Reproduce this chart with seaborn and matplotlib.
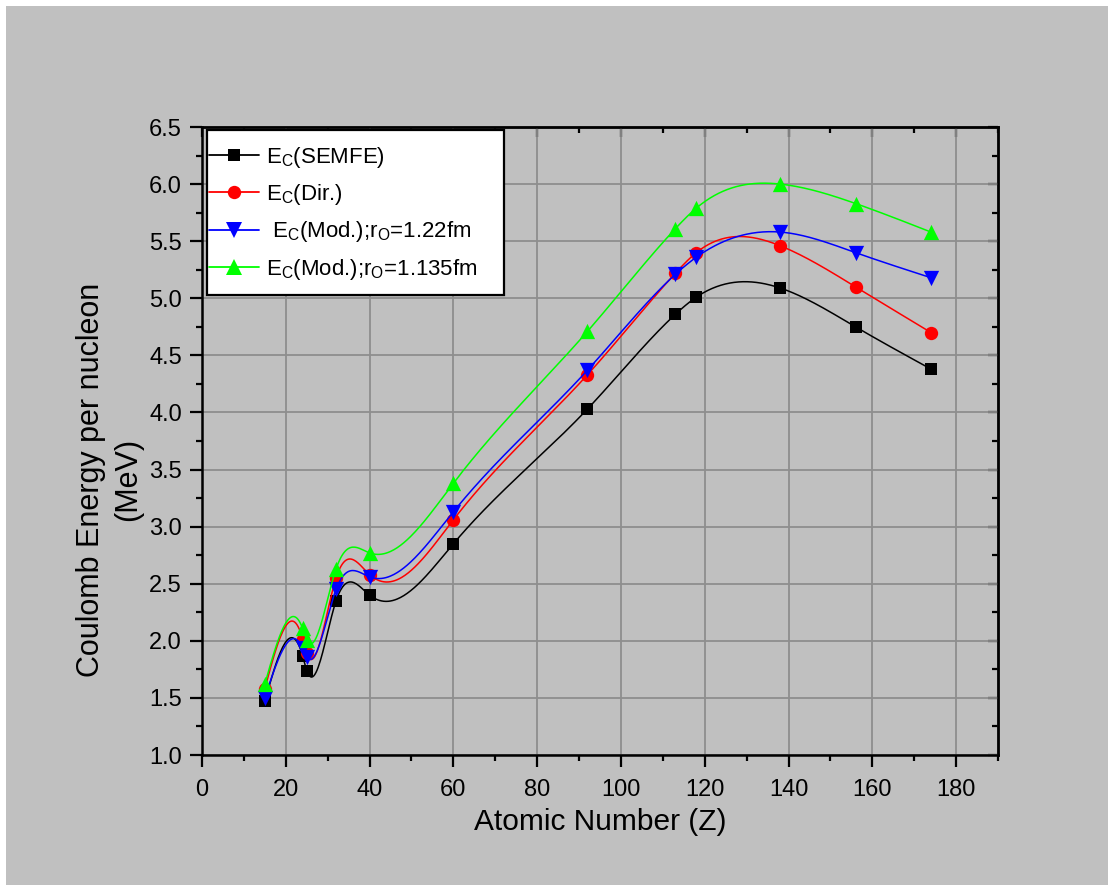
import numpy as np
import matplotlib
matplotlib.use("Agg")
import matplotlib.pyplot as plt
from matplotlib.lines import Line2D
from matplotlib.patches import Rectangle
from matplotlib.ticker import MultipleLocator
import seaborn as sns

# Atomic numbers and Coulomb energy per nucleon (MeV) for each model
Z = [15, 24, 25, 32, 40, 60, 92, 113, 118, 138, 156, 174]
ec_semfe = [1.47, 1.87, 1.74, 2.35, 2.40, 2.85, 4.03, 4.86, 5.01, 5.09, 4.75, 4.38]
ec_dir = [1.58, 2.02, 1.89, 2.55, 2.58, 3.06, 4.33, 5.22, 5.40, 5.46, 5.10, 4.70]
ec_mod_122 = [1.50, 1.94, 1.86, 2.45, 2.56, 3.13, 4.37, 5.21, 5.36, 5.58, 5.40, 5.18]
ec_mod_1135 = [1.62, 2.11, 2.01, 2.63, 2.77, 3.38, 4.71, 5.61, 5.79, 6.00, 5.83, 5.58]

labels = [r"E$_\mathrm{C}$(SEMFE)",
          r"E$_\mathrm{C}$(Dir.)",
          r" E$_\mathrm{C}$(Mod.);r$_\mathrm{O}$=1.22fm",
          r"E$_\mathrm{C}$(Mod.);r$_\mathrm{O}$=1.135fm"]
x_ticks = [0, 20, 40, 60, 80, 100, 120, 140, 160, 180]
y_ticks = [1.0, 1.5, 2.0, 2.5, 3.0, 3.5, 4.0, 4.5, 5.0, 5.5, 6.0, 6.5]

GRAY = "#c0c0c0"
sns.set_style("ticks", {"axes.facecolor": GRAY})
plt.rcParams["font.family"] = ["Liberation Sans", "DejaVu Sans"]
plt.rcParams["mathtext.fontset"] = "custom"
plt.rcParams["mathtext.rm"] = "Liberation Sans"
plt.rcParams["mathtext.it"] = "Liberation Sans:italic"
plt.rcParams["mathtext.bf"] = "Liberation Sans:bold"
for key in ("text.color", "axes.labelcolor", "xtick.color", "ytick.color",
            "xtick.labelcolor", "ytick.labelcolor"):
    plt.rcParams[key] = "black"


def natural_spline(x, y, num=600):
    """Natural cubic spline through (x, y), evaluated on a dense grid."""
    x = np.asarray(x, float)
    y = np.asarray(y, float)
    n = len(x)
    h = np.diff(x)
    A = np.zeros((n, n))
    b = np.zeros(n)
    A[0, 0] = A[-1, -1] = 1.0
    for i in range(1, n - 1):
        A[i, i - 1] = h[i - 1]
        A[i, i] = 2 * (h[i - 1] + h[i])
        A[i, i + 1] = h[i]
        b[i] = 6 * ((y[i + 1] - y[i]) / h[i] - (y[i] - y[i - 1]) / h[i - 1])
    M = np.linalg.solve(A, b)
    xs = np.linspace(x[0], x[-1], num)
    idx = np.clip(np.searchsorted(x, xs) - 1, 0, n - 2)
    x0, x1 = x[idx], x[idx + 1]
    hh = x1 - x0
    ys = (M[idx] * (x1 - xs) ** 3 / (6 * hh) + M[idx + 1] * (xs - x0) ** 3 / (6 * hh)
          + (y[idx] / hh - M[idx] * hh / 6) * (x1 - xs)
          + (y[idx + 1] / hh - M[idx + 1] * hh / 6) * (xs - x0))
    return xs, ys


W, H = 1108, 885
fig = plt.figure(figsize=(W / 100, H / 100), dpi=100, facecolor="white")
fig.patches.append(Rectangle((6 / W, 0), 1 - 6 / W, (H - 6) / H,
                             transform=fig.transFigure, facecolor=GRAY,
                             edgecolor="none", zorder=-10))
ax_l, ax_r, ax_t, ax_b = 202, 998, 127, 755
ax = fig.add_axes([ax_l / W, (H - ax_b) / H, (ax_r - ax_l) / W, (ax_b - ax_t) / H])
ax.set_facecolor(GRAY)

series = [
    (ec_semfe, "black", "s", 8.6),
    (ec_dir, "#ff0000", "o", 9.6),
    (ec_mod_122, "#0000ff", "v", 11.0),
    (ec_mod_1135, "#00ff00", "^", 11.0),
]

handles = []
for k, (vals, color, marker, ms) in enumerate(series):
    xs, ys = natural_spline(Z, vals)
    sns.lineplot(x=xs, y=ys, ax=ax, color=color, linewidth=1.1,
                 estimator=None, sort=False, zorder=3 + 2 * k)
    sns.scatterplot(x=Z, y=vals, ax=ax, marker=marker, s=ms ** 2,
                    color=color, edgecolor=color, linewidth=0,
                    zorder=4 + 2 * k)
    handles.append(Line2D([], [], color=color, linewidth=1.3, marker=marker,
                          markersize=ms, markeredgewidth=0))

ax.set_xlim(0, 190)
ax.set_ylim(1.0, 6.5)
ax.set_xticks(x_ticks)
ax.set_yticks(y_ticks)
ax.set_yticklabels([f"{v:.1f}" for v in y_ticks])
ax.xaxis.set_minor_locator(MultipleLocator(10))
ax.yaxis.set_minor_locator(MultipleLocator(0.25))
ax.grid(True, which="major", color="#8e8e8e", linewidth=1.3, zorder=1)
ax.set_axisbelow(True)

ax.tick_params(which="major", direction="out", length=8.5, width=1.6,
               labelsize=17, color="black", labelcolor="black")
ax.tick_params(axis="x", which="major", pad=9)
ax.tick_params(axis="y", which="major", pad=6)
ax.tick_params(which="minor", direction="out", length=4.5, width=1.6,
               color="black")
for sp in ax.spines.values():
    sp.set_linewidth(1.8)
    sp.set_color("black")
    sp.set_visible(True)

# inward ticks on the top and right edges
secx = ax.secondary_xaxis("top")
secx.set_xticks(x_ticks)
secx.xaxis.set_minor_locator(MultipleLocator(10))
secx.tick_params(which="major", direction="in", length=7, width=1.6, labeltop=False)
secx.tick_params(which="minor", direction="in", length=4, width=1.6)
secy = ax.secondary_yaxis("right")
secy.set_yticks(y_ticks)
secy.yaxis.set_minor_locator(MultipleLocator(0.25))
secy.tick_params(which="major", direction="in", length=7, width=1.6, labelright=False)
secy.tick_params(which="minor", direction="in", length=4, width=1.6)
for s in (secx, secy):
    for sp in s.spines.values():
        sp.set_linewidth(1.8)

ax.set_xlabel("Atomic Number (Z)", fontsize=21.5, labelpad=5)
ax.set_ylabel("Coulomb Energy per nucleon\n(MeV)", fontsize=22,
              linespacing=1.3)
ax.yaxis.set_label_coords(-0.074, 0.438)


def px_to_axes(px, py):
    return (px - ax_l) / (ax_r - ax_l), (ax_b - py) / (ax_b - ax_t)


# legend box (white, black frame) in the upper-left corner
lx0, ly0 = px_to_axes(207, 295)
lx1, ly1 = px_to_axes(504, 130)
ax.add_patch(Rectangle((lx0, ly0), lx1 - lx0, ly1 - ly0, transform=ax.transAxes,
                       facecolor="white", edgecolor="black", linewidth=1.6,
                       zorder=19))
ax_x, ax_y = px_to_axes(209, 145)
leg = ax.legend(handles, labels, loc="upper left", bbox_to_anchor=(ax_x, ax_y),
                borderaxespad=0, borderpad=0, fontsize=16,
                handlelength=2.25, handletextpad=0.3, labelspacing=0.55,
                frameon=False, numpoints=1)
leg.set_zorder(20)

fig.savefig("out.png", dpi=100)
